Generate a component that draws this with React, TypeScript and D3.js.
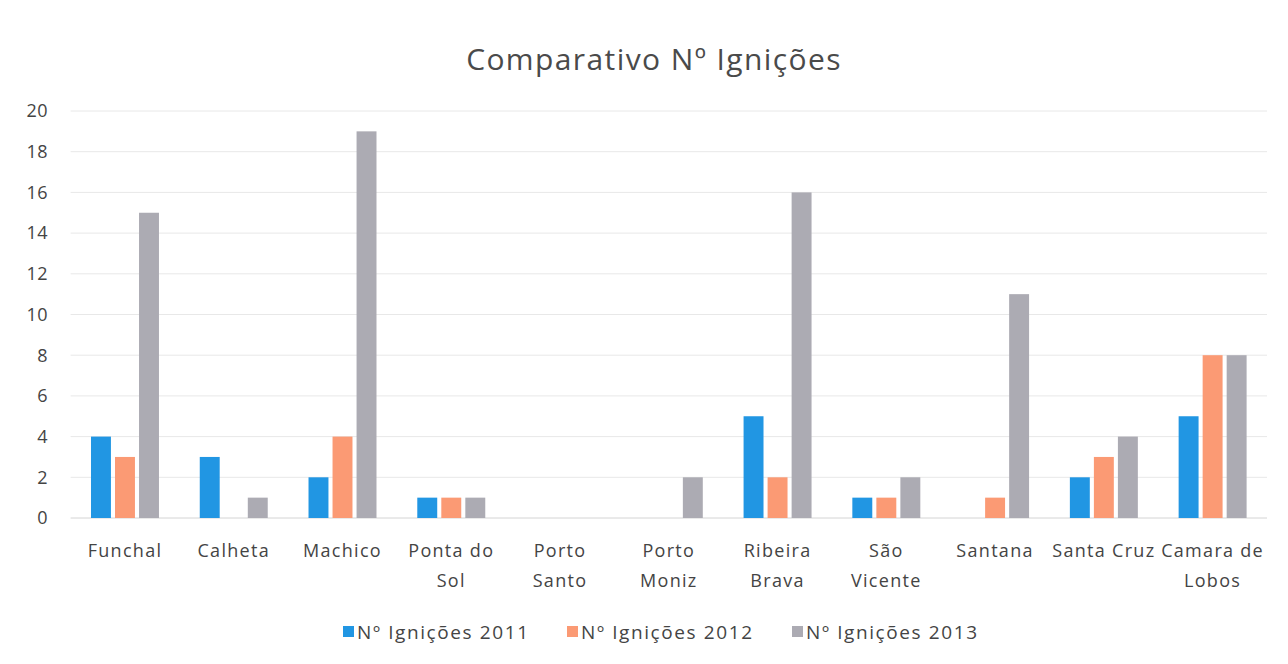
import React, { useEffect, useRef } from 'react';
import * as d3 from 'd3';

const categories = [
  'Funchal', 'Calheta', 'Machico', 'Ponta do Sol', 'Porto Santo', 'Porto Moniz',
  'Ribeira Brava', 'São Vicente', 'Santana', 'Santa Cruz', 'Camara de Lobos',
];
// label lines as they wrap in the original
const categoryLines = [
  ['Funchal'], ['Calheta'], ['Machico'], ['Ponta do', 'Sol'], ['Porto', 'Santo'],
  ['Porto', 'Moniz'], ['Ribeira', 'Brava'], ['São', 'Vicente'], ['Santana'],
  ['Santa Cruz'], ['Camara de', 'Lobos'],
];
const seriesNames = ['Nº Ignições 2011', 'Nº Ignições 2012', 'Nº Ignições 2013'];
const values2011 = [4, 3, 2, 1, 0, 0, 5, 1, 0, 2, 5];
const values2012 = [3, 0, 4, 1, 0, 0, 2, 1, 1, 3, 8];
const values2013 = [15, 1, 19, 1, 0, 2, 16, 2, 11, 4, 8];
const yTicks = [0, 2, 4, 6, 8, 10, 12, 14, 16, 18, 20];
const colors = ['#2196e3', '#fb9a74', '#acabb3'];

const App = () => {
  const ref = useRef<SVGSVGElement>(null);

  useEffect(() => {
    const width = 1288;
    const height = 664;
    const svg = d3.select(ref.current);
    svg.selectAll('*').remove();
    const font = '"Open Sans", "Noto Sans", sans-serif';

    const left = 70.6, right = 1267, top = 111, bottom = 518;

    const x = d3.scaleBand<string>().domain(categories).range([left, right]).paddingInner(0.375).paddingOuter(0.1875);
    const xs = d3.scaleBand<string>().domain(seriesNames).range([0, x.bandwidth()]).paddingInner(0.17);
    const y = d3.scaleLinear().domain([0, 20]).range([bottom, top]);

    svg.append('rect').attr('width', width).attr('height', height).attr('fill', '#fff');

    // gridlines
    svg.append('g')
      .selectAll('line')
      .data(yTicks)
      .enter()
      .append('line')
      .attr('x1', left)
      .attr('x2', right)
      .attr('y1', d => y(d))
      .attr('y2', d => y(d))
      .attr('stroke', d => (d === 0 ? '#d4d4d4' : '#e8e8e8'))
      .attr('stroke-width', 1);

    // y labels
    svg.append('g')
      .selectAll('text')
      .data(yTicks)
      .enter()
      .append('text')
      .attr('x', 48)
      .attr('y', d => y(d))
      .attr('dy', '0.35em')
      .attr('text-anchor', 'end')
      .style('font-family', font)
      .style('font-size', '18px')
      .style('letter-spacing', '0.5px')
      .style('fill', '#444')
      .text(d => d);

    const series = [values2011, values2012, values2013];
    seriesNames.forEach((name, si) => {
      svg.append('g')
        .selectAll('rect')
        .data(series[si])
        .enter()
        .append('rect')
        .attr('x', (d, i) => (x(categories[i]) as number) + (xs(name) as number))
        .attr('y', d => y(d))
        .attr('width', xs.bandwidth())
        .attr('height', d => bottom - y(d))
        .attr('fill', colors[si]);
    });

    // category labels
    const lab = svg.append('g')
      .selectAll('text')
      .data(categories)
      .enter()
      .append('text')
      .attr('x', d => (x(d) as number) + x.bandwidth() / 2)
      .attr('y', 557)
      .attr('text-anchor', 'middle')
      .style('font-family', font)
      .style('font-size', '18px')
      .style('letter-spacing', '1.3px')
      .style('fill', '#444');
    lab.each(function (d, i) {
      const t = d3.select(this);
      categoryLines[i].forEach((line, li) => {
        t.append('tspan')
          .attr('x', (x(d) as number) + x.bandwidth() / 2)
          .attr('dy', li === 0 ? 0 : 30)
          .text(line);
      });
    });

    // title
    svg.append('text')
      .attr('x', 654)
      .attr('y', 70)
      .attr('text-anchor', 'middle')
      .style('font-family', font)
      .style('font-size', '30px')
      .style('letter-spacing', '1.4px')
      .style('fill', '#4a4a4a')
      .text('Comparativo Nº Ignições');

    // legend
    const legendX = [343, 567, 792];
    seriesNames.forEach((name, si) => {
      svg.append('rect')
        .attr('x', legendX[si])
        .attr('y', 626)
        .attr('width', 11)
        .attr('height', 11)
        .attr('fill', colors[si]);
      svg.append('text')
        .attr('x', legendX[si] + 14)
        .attr('y', 639)
        .style('font-family', font)
        .style('font-size', '19px')
        .style('letter-spacing', '1.6px')
        .style('fill', '#444')
        .text(name);
    });
  }, []);

  return (
    <div style={{ position: 'absolute', left: 0, top: 0 }}>
      <svg ref={ref} width={1288} height={664} style={{ display: 'block' }} />
    </div>
  );
};

export default App;
